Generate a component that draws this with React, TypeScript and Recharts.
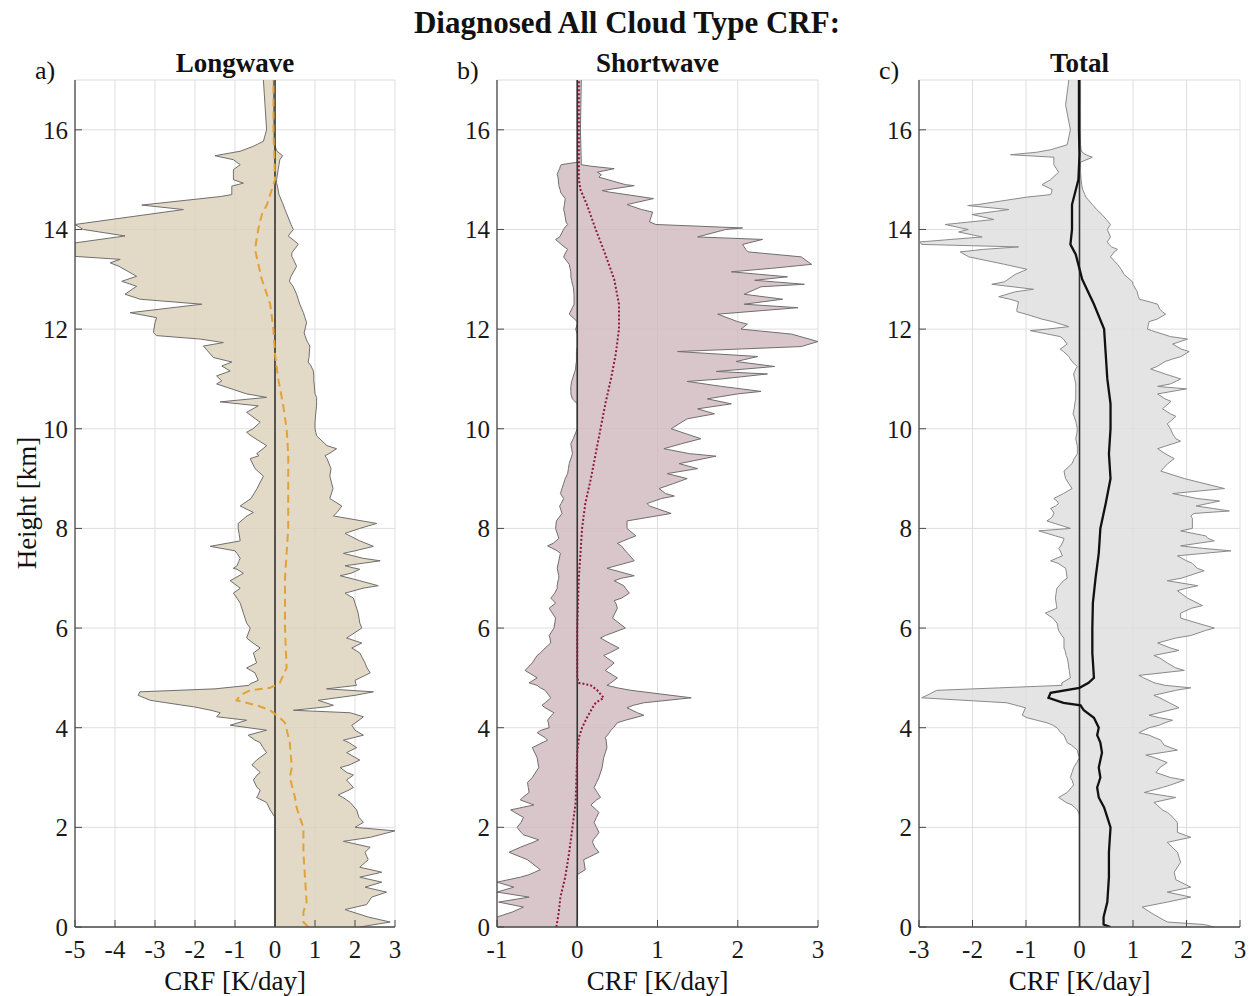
import React from "react";
import { ComposedChart, Area, Line, XAxis, YAxis, CartesianGrid, ReferenceLine } from "recharts";

// rows are [height km, min CRF, max CRF]
const lwEnvelope: [number, number, number][] = [
  [0, 0, 2.12], [0.1, 0, 2.88], [0.2, 0, 2.33], [0.35, 0, 1.75], [0.45, 0, 2.29], [0.6, 0, 2.42],
  [0.7, 0, 2.79], [0.8, 0, 2.25], [0.9, 0, 2.67], [1.0, 0, 2.12], [1.1, 0, 2.67], [1.2, 0, 2.12],
  [1.35, 0, 2.33], [1.5, 0, 2.25], [1.6, 0, 2.38], [1.72, 0, 1.71], [1.8, 0, 2.38], [1.93, 0, 3.0],
  [2.0, 0, 2.0], [2.1, 0, 2.21], [2.2, 0, 2.1], [2.35, -0.12, 2.04], [2.5, -0.21, 1.88], [2.6, -0.46, 1.7],
  [2.65, -0.42, 1.58], [2.75, -0.37, 1.85], [2.8, -0.45, 1.96], [2.95, -0.54, 1.79], [3.05, -0.45, 1.96],
  [3.1, -0.37, 1.8], [3.2, -0.5, 1.63], [3.25, -0.58, 1.85], [3.35, -0.46, 2.12], [3.5, -0.21, 1.79],
  [3.6, -0.3, 2.04], [3.7, -0.37, 1.85], [3.75, -0.5, 1.71], [3.85, -0.67, 2.21], [3.95, -0.21, 2.0],
  [4.05, -1.12, 1.92], [4.15, -0.71, 2.1], [4.22, -1.46, 2.21], [4.3, -1.37, 1.88], [4.35, -1.6, 0.46],
  [4.42, -2.04, 1.3], [4.45, -2.3, 1.46], [4.55, -3.12, 1.08], [4.65, -3.42, 2.0], [4.72, -3.38, 2.46],
  [4.78, -1.5, 1.29], [4.85, -0.65, 2.04], [4.88, -0.62, 2.02], [4.95, -0.42, 2.0], [5.1, -0.5, 2.38],
  [5.2, -0.71, 2.3], [5.3, -0.46, 2.25], [5.5, -0.54, 2.12], [5.6, -0.37, 1.92], [5.7, -0.55, 2.17],
  [5.8, -0.71, 1.79], [6.0, -0.62, 2.17], [6.1, -0.71, 2.12], [6.3, -0.79, 2.08], [6.5, -0.87, 2.0],
  [6.6, -0.95, 1.96], [6.7, -1.04, 1.75], [6.8, -0.87, 2.2], [6.85, -0.95, 2.58], [6.95, -1.12, 2.12],
  [7.05, -0.9, 1.63], [7.1, -0.79, 1.9], [7.18, -0.95, 2.12], [7.2, -1.04, 2.0], [7.25, -0.95, 1.75],
  [7.35, -0.9, 2.63], [7.4, -0.87, 2.2], [7.5, -0.95, 1.71], [7.55, -1.0, 2.0], [7.64, -1.62, 2.46],
  [7.75, -0.87, 2.12], [7.9, -0.9, 1.75], [8.0, -0.92, 2.12], [8.1, -0.92, 2.54], [8.25, -0.7, 1.46],
  [8.32, -0.54, 1.55], [8.45, -0.87, 1.67], [8.6, -0.6, 1.37], [8.8, -0.45, 1.45], [9.05, -0.29, 1.37],
  [9.2, -0.5, 1.4], [9.4, -0.62, 1.3], [9.46, -0.4, 1.25], [9.5, -0.46, 1.35], [9.6, -0.3, 1.54],
  [9.66, -0.21, 1.3], [9.86, -0.6, 1.04], [9.93, -0.71, 1.02], [10.0, -0.55, 1.0], [10.13, -0.37, 1.0],
  [10.33, -0.71, 1.02], [10.46, -0.42, 1.04], [10.54, -1.37, 1.04], [10.63, -0.21, 1.04], [10.7, -0.71, 1.0],
  [10.9, -1.46, 0.98], [10.96, -1.33, 0.97], [11.06, -1.46, 0.97], [11.16, -1.12, 0.96], [11.26, -1.33, 0.9],
  [11.34, -1.08, 0.83], [11.43, -1.54, 0.85], [11.66, -1.79, 0.87], [11.73, -1.29, 0.82], [11.8, -1.87, 0.78],
  [11.87, -2.96, 0.75], [11.93, -3.04, 0.73], [12.13, -3.0, 0.79], [12.23, -2.96, 0.75], [12.33, -3.62, 0.71],
  [12.5, -1.83, 0.62], [12.6, -3.37, 0.58], [12.7, -3.75, 0.54], [12.86, -3.46, 0.45], [12.96, -3.83, 0.36],
  [13.06, -3.46, 0.4], [13.26, -3.9, 0.54], [13.33, -4.12, 0.5], [13.4, -3.87, 0.46], [13.46, -5.0, 0.42],
  [13.53, -5.0, 0.42], [13.7, -5.0, 0.58], [13.73, -5.0, 0.55], [13.87, -3.75, 0.33], [14.0, -4.79, 0.46],
  [14.1, -5.0, 0.4], [14.4, -2.29, 0.25], [14.49, -3.33, 0.21], [14.66, -1.37, 0.12], [14.7, -1.08, 0.1],
  [14.87, -1.08, 0.06], [14.93, -0.79, 0.04], [15.0, -1.04, 0.04], [15.2, -1.04, 0.08], [15.3, -0.87, 0.1],
  [15.4, -1.04, 0.12], [15.48, -1.5, 0.19], [15.57, -0.87, 0.05], [15.67, -0.54, 0.0], [15.77, -0.29, -0.02],
  [16.0, -0.21, -0.03], [17.0, -0.29, -0.04],
];

// rows are [height km, mean CRF]
const lwMean: [number, number][] = [
  [0, 0.83], [0.1, 0.71], [0.3, 0.71], [0.5, 0.79], [1.0, 0.75], [1.5, 0.71], [2.0, 0.71], [2.2, 0.62],
  [2.4, 0.54], [2.6, 0.5], [3.0, 0.37], [3.2, 0.42], [3.7, 0.37], [4.1, 0.25], [4.2, 0.12], [4.35, -0.12],
  [4.45, -0.46], [4.55, -0.96], [4.65, -0.87], [4.75, -0.63], [4.8, -0.12], [4.9, 0.12], [5.2, 0.29],
  [6.0, 0.25], [7.0, 0.25], [8.0, 0.33], [9.0, 0.33], [9.5, 0.33], [10.0, 0.29], [10.5, 0.2], [11.0, 0.08],
  [11.5, 0.0], [12.0, -0.04], [12.5, -0.12], [13.0, -0.33], [13.6, -0.5], [14.0, -0.42], [14.3, -0.33],
  [14.5, -0.2], [15.0, 0.0], [16.0, -0.04], [17.0, -0.04],
];

const swEnvelope: [number, number, number][] = [
  [0, -1.0, 0], [0.1, -1.0, 0], [0.2, -1.0, 0], [0.3, -0.81, 0], [0.4, -0.67, 0], [0.5, -0.98, 0],
  [0.6, -0.6, 0], [0.7, -1.0, 0], [0.8, -0.79, 0], [0.9, -1.0, 0], [1.0, -0.71, 0], [1.05, -0.6, 0],
  [1.15, -0.46, 0.1], [1.35, -0.62, 0.08], [1.5, -0.85, 0.27], [1.6, -0.71, 0.22], [1.7, -0.55, 0.19],
  [1.75, -0.48, 0.2], [1.85, -0.67, 0.25], [1.9, -0.7, 0.27], [2.0, -0.75, 0.24], [2.1, -0.7, 0.21],
  [2.2, -0.67, 0.24], [2.3, -0.78, 0.27], [2.35, -0.83, 0.24], [2.45, -0.54, 0.17], [2.55, -0.71, 0.24],
  [2.6, -0.68, 0.29], [2.7, -0.6, 0.25], [2.8, -0.61, 0.21], [2.9, -0.62, 0.24], [3.0, -0.56, 0.27],
  [3.2, -0.48, 0.31], [3.4, -0.5, 0.33], [3.6, -0.56, 0.37], [3.75, -0.37, 0.36], [3.8, -0.4, 0.35],
  [3.9, -0.5, 0.4], [3.95, -0.45, 0.42], [4.0, -0.35, 0.45], [4.1, -0.36, 0.5], [4.15, -0.37, 0.6],
  [4.25, -0.32, 0.83], [4.3, -0.29, 0.75], [4.4, -0.4, 0.62], [4.45, -0.44, 0.7], [4.5, -0.4, 0.83],
  [4.6, -0.33, 1.42], [4.75, -0.4, 0.67], [4.8, -0.46, 0.5], [4.85, -0.5, 0.37], [4.9, -0.6, 0.42],
  [5.0, -0.5, 0.5], [5.15, -0.65, 0.35], [5.3, -0.56, 0.46], [5.45, -0.5, 0.33], [5.5, -0.46, 0.4],
  [5.6, -0.4, 0.52], [5.7, -0.33, 0.4], [5.8, -0.34, 0.29], [5.85, -0.35, 0.35], [6.0, -0.29, 0.6],
  [6.2, -0.27, 0.44], [6.4, -0.35, 0.5], [6.5, -0.27, 0.48], [6.55, -0.3, 0.46], [6.6, -0.33, 0.55],
  [6.7, -0.28, 0.65], [6.8, -0.25, 0.6], [6.85, -0.25, 0.58], [6.95, -0.24, 0.46], [7.0, -0.23, 0.55],
  [7.05, -0.23, 0.71], [7.2, -0.25, 0.37], [7.35, -0.23, 0.71], [7.5, -0.21, 0.63], [7.55, -0.25, 0.6],
  [7.65, -0.37, 0.55], [7.7, -0.3, 0.5], [7.8, -0.23, 0.65], [7.85, -0.24, 0.73], [8.0, -0.27, 0.62],
  [8.15, -0.26, 0.62], [8.3, -0.19, 1.17], [8.45, -0.22, 0.9], [8.5, -0.2, 0.87], [8.6, -0.17, 1.05],
  [8.65, -0.19, 1.21], [8.7, -0.21, 1.1], [8.8, -0.19, 1.02], [8.9, -0.17, 1.2], [9.0, -0.15, 1.37],
  [9.1, -0.12, 1.12], [9.2, -0.11, 1.5], [9.3, -0.1, 1.27], [9.45, -0.07, 1.73], [9.5, -0.06, 1.4],
  [9.6, -0.07, 1.08], [9.7, -0.08, 1.3], [9.8, -0.05, 1.54], [10.0, 0, 1.17], [10.2, 0, 1.37],
  [10.3, 0, 1.71], [10.4, 0, 1.5], [10.5, 0, 1.92], [10.6, -0.06, 1.62], [10.7, -0.08, 2.0],
  [10.75, -0.08, 2.29], [10.85, -0.08, 1.8], [10.95, -0.07, 1.37], [11.0, -0.06, 1.8], [11.1, -0.04, 2.37],
  [11.15, -0.03, 1.73], [11.2, -0.02, 2.1], [11.25, -0.02, 2.46], [11.35, -0.01, 1.98], [11.45, -0.01, 2.25],
  [11.55, -0.01, 1.25], [11.65, 0, 2.79], [11.75, 0, 3.0], [11.9, 0, 2.67], [12.0, -0.02, 2.04],
  [12.1, 0, 2.12], [12.15, 0, 2.0], [12.3, -0.1, 1.75], [12.43, -0.06, 2.75], [12.5, -0.04, 2.08],
  [12.6, -0.04, 2.56], [12.7, -0.04, 2.08], [12.85, -0.05, 2.29], [12.9, -0.06, 2.83], [12.98, -0.07, 2.21],
  [13.05, -0.08, 2.62], [13.15, -0.08, 1.92], [13.22, -0.09, 2.42], [13.3, -0.1, 2.92], [13.45, -0.17, 2.79],
  [13.55, -0.14, 2.13], [13.6, -0.12, 2.1], [13.7, -0.2, 2.06], [13.8, -0.27, 2.31], [13.85, -0.22, 1.5],
  [14.0, -0.17, 1.85], [14.03, -0.16, 2.06], [14.1, -0.12, 0.98], [14.15, -0.14, 0.9], [14.35, -0.16, 0.94],
  [14.4, -0.17, 0.8], [14.5, -0.16, 0.62], [14.62, -0.15, 0.95], [14.75, -0.21, 0.4], [14.78, -0.21, 0.31],
  [14.88, -0.23, 0.71], [14.9, -0.23, 0.6], [15.05, -0.24, 0.27], [15.1, -0.25, 0.3], [15.15, -0.24, 0.25],
  [15.22, -0.22, 0.46], [15.27, -0.21, 0.17], [15.3, -0.2, 0.05], [15.35, 0, 0.05], [16.0, 0, 0.04],
  [17.0, 0, 0.05],
];

const swMean: [number, number][] = [
  [0, -0.26], [0.3, -0.23], [0.6, -0.21], [1.0, -0.15], [1.5, -0.1], [2.0, -0.06], [2.5, -0.02],
  [3.0, -0.01], [3.5, 0], [3.8, 0.02], [4.0, 0.06], [4.2, 0.12], [4.4, 0.19], [4.5, 0.23], [4.6, 0.33],
  [4.75, 0.25], [4.85, 0.17], [4.9, 0.02], [5.0, 0], [5.5, 0], [6.0, 0], [6.5, 0.01], [7.0, 0.02],
  [7.5, 0.04], [8.0, 0.06], [8.5, 0.1], [9.0, 0.17], [9.5, 0.23], [10.0, 0.29], [10.5, 0.35], [11.0, 0.42],
  [11.5, 0.48], [12.0, 0.52], [12.5, 0.52], [13.0, 0.46], [13.5, 0.35], [14.0, 0.23], [14.5, 0.12],
  [14.8, 0.04], [15.0, 0.02], [16.0, 0.02], [17.0, 0.02],
];

const totEnvelope: [number, number, number][] = [
  [0, 0, 2.52], [0.05, 0, 2.33], [0.1, 0, 1.64], [0.25, 0, 1.39], [0.4, 0, 1.17], [0.5, 0, 1.64],
  [0.6, 0, 2.08], [0.7, 0, 1.64], [0.8, 0, 2.08], [0.95, 0, 1.8], [1.1, 0, 1.77], [1.3, 0, 1.89],
  [1.5, 0, 1.83], [1.7, 0, 1.64], [1.8, 0, 2.08], [1.9, 0, 1.83], [2.1, 0, 1.83], [2.25, 0, 1.7],
  [2.3, -0.02, 1.64], [2.35, -0.04, 1.55], [2.45, -0.14, 1.45], [2.5, -0.25, 1.39], [2.6, -0.39, 1.8],
  [2.7, -0.23, 1.21], [2.8, -0.15, 1.55], [2.85, -0.11, 1.7], [2.95, -0.14, 1.96], [3.0, -0.17, 1.7],
  [3.1, -0.14, 1.43], [3.2, -0.11, 1.5], [3.3, -0.05, 1.64], [3.4, 0, 1.4], [3.45, -0.02, 1.24],
  [3.55, -0.04, 1.83], [3.65, -0.15, 1.58], [3.7, -0.23, 1.55], [3.75, -0.25, 1.52], [3.85, -0.29, 1.3],
  [3.9, -0.35, 1.11], [4.0, -0.42, 1.3], [4.05, -0.5, 1.49], [4.1, -0.61, 1.6], [4.15, -0.8, 1.74],
  [4.2, -0.98, 1.5], [4.25, -1.07, 1.3], [4.4, -1.01, 1.86], [4.5, -1.36, 1.68], [4.6, -2.95, 1.5],
  [4.65, -2.85, 1.39], [4.75, -2.67, 1.8], [4.8, -1.5, 2.08], [4.85, -0.33, 1.6], [4.9, -0.33, 1.4],
  [5.0, -0.17, 1.2], [5.05, -0.18, 1.11], [5.15, -0.19, 1.96], [5.2, -0.2, 1.8], [5.3, -0.21, 1.64],
  [5.4, -0.23, 1.5], [5.45, -0.25, 1.39], [5.55, -0.27, 1.86], [5.6, -0.29, 1.7], [5.7, -0.29, 1.46],
  [5.8, -0.29, 1.8], [5.85, -0.33, 2.08], [5.95, -0.39, 2.35], [6.0, -0.4, 2.52], [6.1, -0.42, 2.2],
  [6.2, -0.5, 1.89], [6.3, -0.64, 1.89], [6.4, -0.42, 2.1], [6.45, -0.43, 2.3], [6.6, -0.45, 2.02],
  [6.75, -0.43, 1.83], [6.8, -0.42, 2.0], [6.85, -0.38, 2.21], [6.95, -0.3, 1.64], [7.0, -0.23, 1.9],
  [7.15, -0.25, 2.33], [7.2, -0.26, 2.2], [7.3, -0.4, 2.11], [7.35, -0.54, 2.0], [7.45, -0.32, 1.83],
  [7.55, -0.36, 2.83], [7.6, -0.39, 2.3], [7.65, -0.35, 1.89], [7.75, -0.3, 2.52], [7.8, -0.29, 2.4],
  [7.85, -0.45, 2.36], [7.95, -0.76, 1.89], [8.0, -0.17, 2.11], [8.15, -0.61, 2.11], [8.2, -0.54, 2.11],
  [8.25, -0.5, 2.08], [8.3, -0.48, 2.14], [8.35, -0.5, 2.8], [8.4, -0.54, 2.5], [8.45, -0.45, 2.18],
  [8.5, -0.39, 2.4], [8.55, -0.42, 2.62], [8.6, -0.48, 2.2], [8.7, -0.3, 1.74], [8.8, -0.14, 2.71],
  [9.0, -0.26, 1.96], [9.15, -0.29, 1.52], [9.3, -0.14, 1.65], [9.4, -0.1, 1.77], [9.5, -0.04, 1.6],
  [9.6, -0.04, 1.46], [9.65, -0.04, 1.6], [9.75, -0.06, 1.89], [9.8, -0.07, 1.8], [9.9, -0.05, 1.74],
  [10.0, -0.04, 1.7], [10.1, -0.06, 1.64], [10.15, -0.07, 1.7], [10.25, -0.1, 1.8], [10.3, -0.12, 1.7],
  [10.4, -0.1, 1.55], [10.55, -0.08, 1.71], [10.6, -0.07, 1.6], [10.7, -0.07, 1.46], [10.8, -0.07, 2.0],
  [10.85, -0.07, 1.46], [10.9, -0.07, 1.7], [11.0, -0.09, 1.89], [11.1, -0.11, 1.6], [11.2, -0.07, 1.33],
  [11.25, -0.04, 1.45], [11.35, -0.14, 1.6], [11.4, -0.17, 1.74], [11.45, -0.2, 1.9], [11.55, -0.3, 2.05],
  [11.6, -0.36, 1.9], [11.7, -0.23, 1.74], [11.8, -0.3, 2.02], [11.85, -0.36, 1.7], [11.97, -0.92, 1.35],
  [12.0, -0.6, 1.27], [12.05, -0.2, 1.28], [12.15, -0.5, 1.3], [12.2, -0.7, 1.45], [12.3, -1.0, 1.61],
  [12.35, -1.17, 1.55], [12.4, -1.17, 1.5], [12.5, -1.15, 1.46], [12.55, -1.14, 1.3], [12.6, -1.3, 1.12],
  [12.65, -1.51, 1.1], [12.75, -1.2, 1.08], [12.8, -0.86, 1.05], [12.9, -1.64, 1.0], [12.95, -1.4, 0.99],
  [13.1, -1.2, 0.83], [13.2, -0.98, 0.78], [13.3, -1.4, 0.71], [13.45, -2.07, 0.58], [13.55, -2.23, 0.65],
  [13.6, -1.8, 0.71], [13.65, -1.14, 0.6], [13.7, -2.95, 0.55], [13.75, -2.98, 0.52], [13.85, -1.82, 0.58],
  [13.95, -2.26, 0.54], [14.0, -2.08, 0.52], [14.1, -2.51, 0.58], [14.2, -1.6, 0.5], [14.25, -1.8, 0.46],
  [14.3, -2.01, 0.42], [14.4, -1.32, 0.32], [14.48, -2.09, 0.26], [14.5, -1.9, 0.24], [14.65, -0.98, 0.12],
  [14.7, -0.54, 0.1], [14.75, -0.52, 0.08], [14.8, -0.51, 0.06], [14.9, -0.7, 0.04], [15.0, -0.54, 0.03],
  [15.15, -0.39, 0.02], [15.3, -0.48, 0.02], [15.35, -0.48, 0.02], [15.45, -0.48, 0.24], [15.5, -1.29, 0.12],
  [15.55, -0.8, 0.05], [15.6, -0.54, 0.03], [15.7, -0.23, 0.02], [16.0, -0.17, 0.02], [16.5, -0.26, 0.02],
  [17.0, -0.2, 0.02],
];

const totMean: [number, number][] = [
  [0, 0.58], [0.05, 0.45], [0.2, 0.45], [0.5, 0.52], [1.0, 0.55], [1.5, 0.55], [2.0, 0.58], [2.2, 0.52],
  [2.4, 0.46], [2.6, 0.36], [2.8, 0.33], [3.0, 0.39], [3.2, 0.36], [3.5, 0.42], [3.7, 0.39], [3.85, 0.33],
  [4.0, 0.36], [4.2, 0.27], [4.35, 0.08], [4.45, 0.02], [4.5, -0.3], [4.6, -0.58], [4.7, -0.54], [4.8, 0.0],
  [4.9, 0.17], [5.0, 0.27], [5.5, 0.24], [6.0, 0.24], [6.5, 0.25], [7.0, 0.3], [7.5, 0.36], [8.0, 0.39],
  [8.5, 0.49], [9.0, 0.58], [9.5, 0.55], [10.0, 0.58], [10.5, 0.58], [11.0, 0.52], [11.5, 0.49], [12.0, 0.46],
  [12.5, 0.27], [13.0, 0.05], [13.5, -0.07], [13.7, -0.17], [14.0, -0.14], [14.5, -0.14], [15.0, -0.02],
  [15.5, 0.0], [16.0, -0.01], [17.0, -0.01],
];

const heightTicks = [0, 2, 4, 6, 8, 10, 12, 14, 16];
const lwTicks = [-5, -4, -3, -2, -1, 0, 1, 2, 3];
const swTicks = [-1, 0, 1, 2, 3];
const totTicks = [-3, -2, -1, 0, 1, 2, 3];

const FONT = "'Liberation Serif', 'Times New Roman', serif";
const PAGE_H = 996;
const PLOT_TOP = 80;
const PLOT_BOTTOM = 927;
const Y_AXIS_W = 60;
const RIGHT_PAD = 12;

interface PanelProps {
  plotLeft: number;
  plotWidth: number;
  xTicks: number[];
  envelope: [number, number, number][];
  mean: [number, number][];
  fill: string;
  edge: string;
  meanColor: string;
  meanWidth: number;
  meanDash?: string;
}

const Panel: React.FC<PanelProps> = ({ plotLeft, plotWidth, xTicks, envelope, mean, fill, edge, meanColor, meanWidth, meanDash }) => {
  const envData = envelope.map(([h, lo, hi]) => ({ h, range: [lo, hi] }));
  const meanData = mean.map(([h, v]) => ({ h, v }));
  const domain: [number, number] = [xTicks[0], xTicks[xTicks.length - 1]];
  const tickStyle = { fill: "#1a1a1a", fontSize: 25, fontFamily: FONT };
  const boxLine = { stroke: "#4a4a4a", strokeWidth: 1.3 };

  return (
    <div style={{ position: "absolute", left: plotLeft - Y_AXIS_W, top: 0 }}>
      <ComposedChart
        layout="vertical"
        width={Y_AXIS_W + plotWidth + RIGHT_PAD}
        height={PAGE_H}
        data={envData}
        margin={{ top: PLOT_TOP, right: RIGHT_PAD, bottom: 0, left: 0 }}
      >
        <CartesianGrid stroke="#dedede" strokeWidth={1} />
        <XAxis
          type="number"
          domain={domain}
          ticks={xTicks}
          allowDataOverflow
          height={PAGE_H - PLOT_BOTTOM}
          tick={tickStyle}
          tickSize={-7}
          tickMargin={20}
          axisLine={boxLine}
          tickLine={{ stroke: "#4a4a4a" }}
        />
        <XAxis
          xAxisId="top"
          orientation="top"
          type="number"
          domain={domain}
          ticks={xTicks}
          allowDataOverflow
          height={0}
          tick={false}
          tickSize={-7}
          axisLine={boxLine}
          tickLine={{ stroke: "#4a4a4a" }}
        />
        <YAxis
          type="number"
          dataKey="h"
          domain={[0, 17]}
          ticks={heightTicks}
          allowDataOverflow
          reversed
          width={Y_AXIS_W}
          tick={tickStyle}
          tickSize={-7}
          tickMargin={14}
          axisLine={boxLine}
          tickLine={{ stroke: "#4a4a4a" }}
        />
        <YAxis
          yAxisId="right"
          orientation="right"
          type="number"
          dataKey="h"
          domain={[0, 17]}
          ticks={heightTicks}
          allowDataOverflow
          reversed
          width={0}
          tick={false}
          tickSize={-7}
          axisLine={boxLine}
          tickLine={{ stroke: "#4a4a4a" }}
        />
        <Area
          type="linear"
          dataKey="range"
          fill={fill}
          fillOpacity={0.82}
          stroke={edge}
          strokeWidth={1}
          dot={false}
          activeDot={false}
          isAnimationActive={false}
        />
        <ReferenceLine x={0} stroke="#333" strokeWidth={1.6} />
        <Line
          data={meanData}
          type="linear"
          dataKey="v"
          stroke={meanColor}
          strokeWidth={meanWidth}
          strokeDasharray={meanDash}
          dot={false}
          activeDot={false}
          isAnimationActive={false}
        />
      </ComposedChart>
    </div>
  );
};

const textBase: React.CSSProperties = { position: "absolute", fontFamily: FONT, color: "#111", whiteSpace: "nowrap", lineHeight: "normal" };

const App: React.FC = () => {
  const panels = [
    { key: "a", letter: "a)", title: "Longwave", left: 75, width: 320, ticks: lwTicks, env: lwEnvelope, mean: lwMean, fill: "#ddd1bb", edge: "#6f6f6f", meanColor: "#e3a235", meanWidth: 2, meanDash: "8 5" },
    { key: "b", letter: "b)", title: "Shortwave", left: 497, width: 321, ticks: swTicks, env: swEnvelope, mean: swMean, fill: "#d1b9c0", edge: "#6f6f6f", meanColor: "#8e1a3c", meanWidth: 2, meanDash: "2 2" },
    { key: "c", letter: "c)", title: "Total", left: 919, width: 321, ticks: totTicks, env: totEnvelope, mean: totMean, fill: "#dedede", edge: "#8a8a8a", meanColor: "#111111", meanWidth: 2.3, meanDash: undefined },
  ];

  return (
    <div style={{ position: "absolute", left: 0, top: 0, width: 1254, height: PAGE_H, background: "#fff", overflow: "hidden" }}>
      <div style={{ ...textBase, left: 0, width: 1254, top: 5, textAlign: "center", fontSize: 31, fontWeight: "bold" }}>
        Diagnosed All Cloud Type CRF:
      </div>
      {panels.map((p) => (
        <React.Fragment key={p.key}>
          <Panel
            plotLeft={p.left}
            plotWidth={p.width}
            xTicks={p.ticks}
            envelope={p.env}
            mean={p.mean}
            fill={p.fill}
            edge={p.edge}
            meanColor={p.meanColor}
            meanWidth={p.meanWidth}
            meanDash={p.meanDash}
          />
          <div style={{ ...textBase, left: p.left, width: p.width, top: 48, textAlign: "center", fontSize: 27, fontWeight: "bold" }}>
            {p.title}
          </div>
          <div style={{ ...textBase, left: p.left - 40, top: 56, fontSize: 26 }}>{p.letter}</div>
          <div style={{ ...textBase, left: p.left, width: p.width, top: 966, textAlign: "center", fontSize: 27 }}>
            CRF [K/day]
          </div>
        </React.Fragment>
      ))}
      <div
        style={{
          ...textBase,
          left: 27,
          top: 503,
          fontSize: 27,
          transform: "translate(-50%, -50%) rotate(-90deg)",
        }}
      >
        Height [km]
      </div>
    </div>
  );
};

export default App;
